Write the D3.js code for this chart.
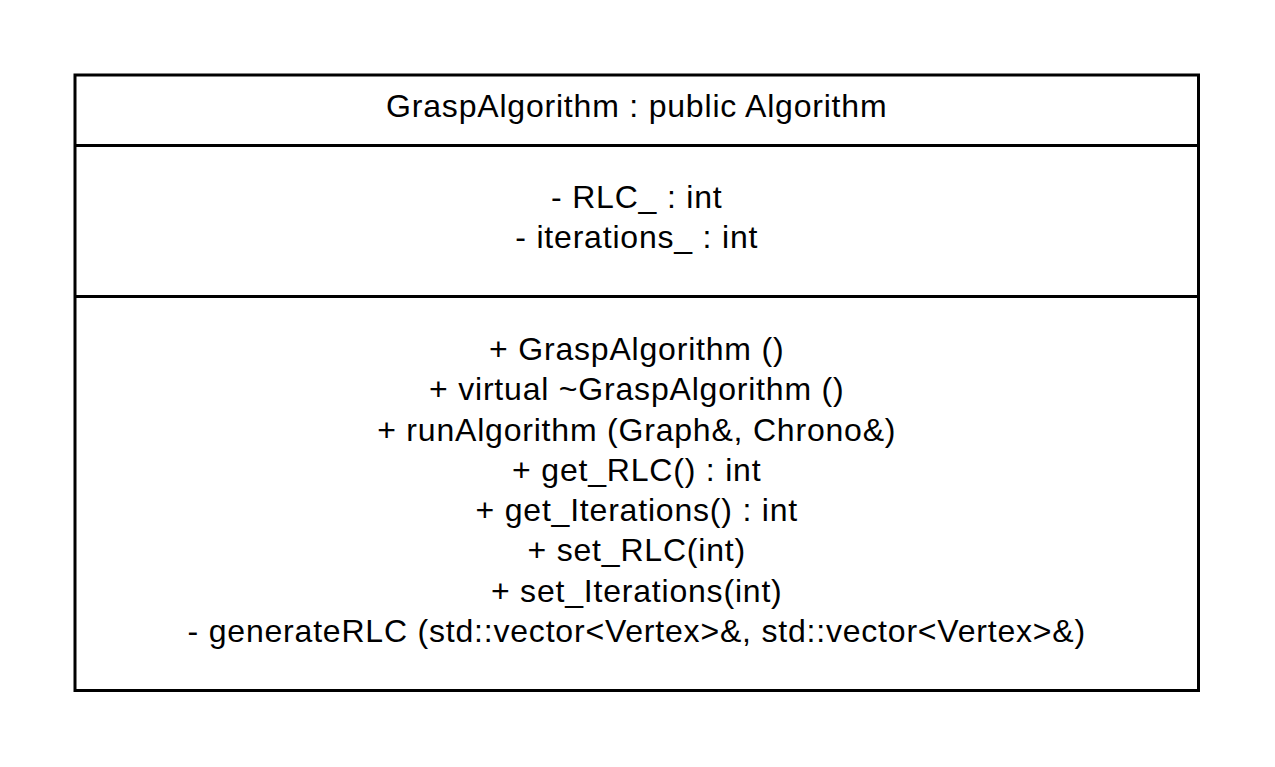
<!DOCTYPE html>
<html>
<head>
<meta charset="utf-8">
<script src="https://cdn.jsdelivr.net/npm/d3@7"></script>
<style>
  html, body { margin: 0; padding: 0; background: #fff; }
  svg { display: block; }
  text { font-family: "Liberation Sans", Arial, sans-serif; fill: #000; }
</style>
</head>
<body>
<svg id="chart" width="1275" height="767"></svg>
<script>
var className = "GraspAlgorithm : public Algorithm";

var attributes = [
  "- RLC_ : int",
  "- iterations_ : int"
];

var methods = [
  "+ GraspAlgorithm ()",
  "+ virtual ~GraspAlgorithm ()",
  "+ runAlgorithm (Graph&, Chrono&)",
  "+ get_RLC() : int",
  "+ get_Iterations() : int",
  "+ set_RLC(int)",
  "+ set_Iterations(int)",
  "- generateRLC (std::vector<Vertex>&, std::vector<Vertex>&)"
];

var svg = d3.select("#chart");

var box = { left: 75, right: 1198.5, top: 75, bottom: 690.5 };
var dividers = [145.5, 296.5];
var lineGap = 40.25;
var fontSize = 32;
var spacing = 0.8;

var x = d3.scaleLinear().domain([0, 1]).range([box.left, box.right]);
var cx = x(0.5);

// baseline scales for each compartment
var attrY = d3.scaleLinear().domain([0, 1]).range([208, 208 + lineGap]);
var methY = d3.scaleLinear().domain([0, 1]).range([360, 360 + lineGap]);

svg.append("rect")
  .attr("x", box.left)
  .attr("y", box.top)
  .attr("width", box.right - box.left)
  .attr("height", box.bottom - box.top)
  .attr("fill", "#fff")
  .attr("stroke", "#000")
  .attr("stroke-width", 3);

svg.selectAll("line.divider")
  .data(dividers)
  .enter()
  .append("line")
  .attr("class", "divider")
  .attr("x1", box.left)
  .attr("x2", box.right)
  .attr("y1", function (d) { return d; })
  .attr("y2", function (d) { return d; })
  .attr("stroke", "#000")
  .attr("stroke-width", 3);

function label(sel) {
  sel.attr("x", cx)
    .attr("text-anchor", "middle")
    .attr("font-size", fontSize)
    .attr("letter-spacing", spacing);
}

svg.append("text")
  .call(label)
  .attr("y", 116.5)
  .text(className);

svg.selectAll("text.attr")
  .data(attributes)
  .enter()
  .append("text")
  .attr("class", "attr")
  .call(label)
  .attr("y", function (d, i) { return attrY(i); })
  .text(function (d) { return d; });

svg.selectAll("text.meth")
  .data(methods)
  .enter()
  .append("text")
  .attr("class", "meth")
  .call(label)
  .attr("y", function (d, i) { return methY(i); })
  .text(function (d) { return d; });
</script>
</body>
</html>
